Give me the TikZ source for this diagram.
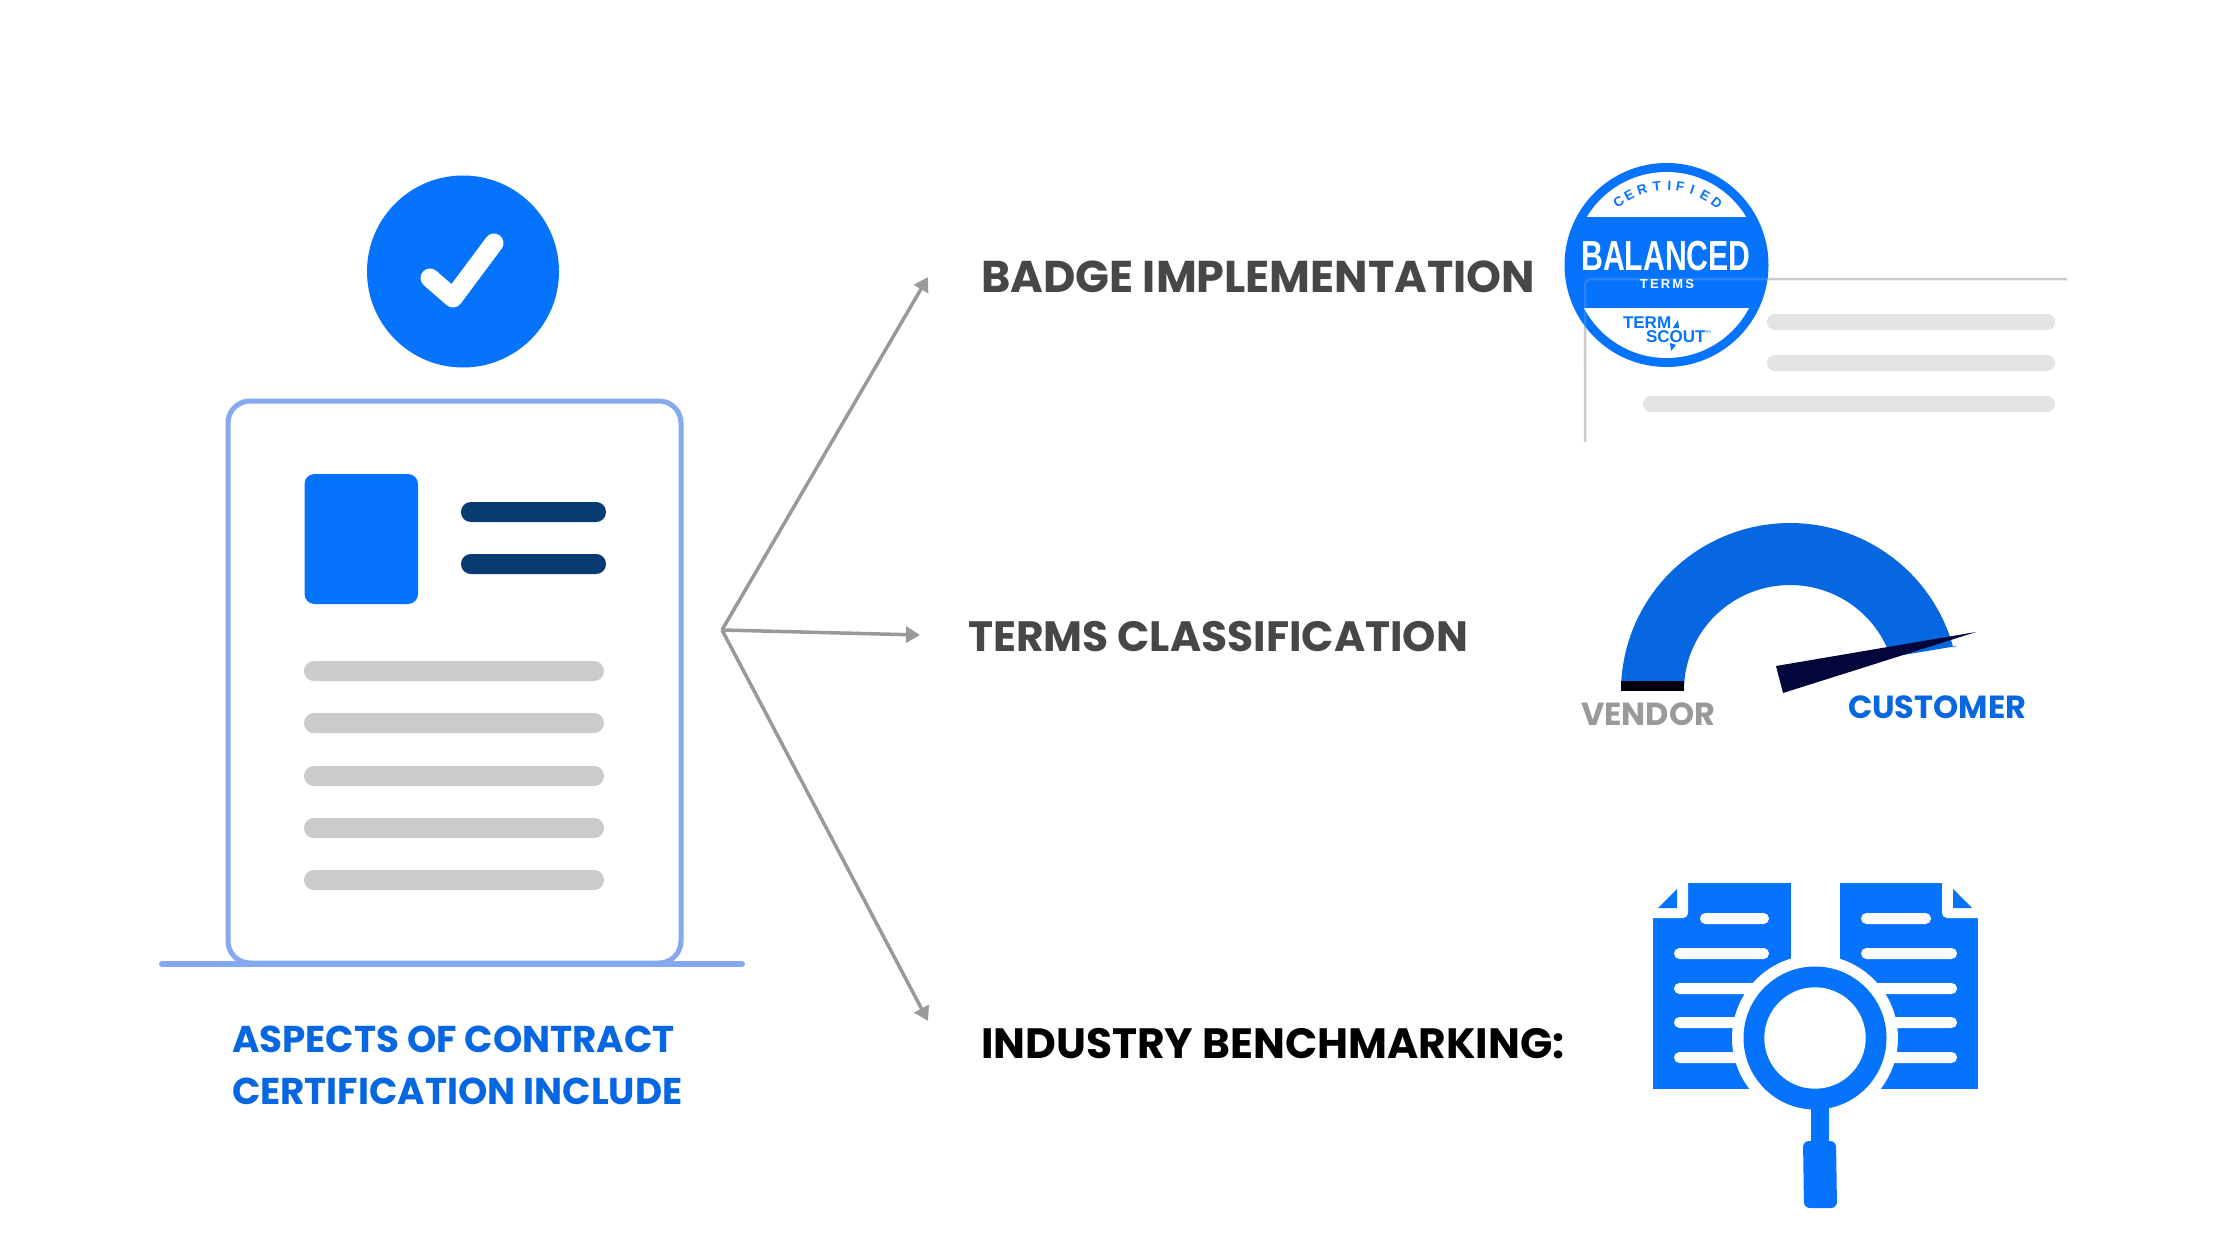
\documentclass[tikz,border=0pt]{standalone}
\usepackage{fontspec}
\usetikzlibrary{arrows.meta}
\newfontfamily\pop{Poppins}
\newfontfamily\lib{Liberation Sans}
\newcommand{\fsz}[1]{\fontsize{#1}{#1}\selectfont}
\definecolor{vivid}{HTML}{0573FC}
\definecolor{labelblue}{HTML}{0767E0}
\definecolor{cardline}{HTML}{85A9EE}
\definecolor{navybar}{HTML}{0A3A72}
\definecolor{greybar}{HTML}{CBCBCB}
\definecolor{palebar}{HTML}{E4E4E4}
\definecolor{paleline}{HTML}{CCCCCC}
\definecolor{arrowgrey}{HTML}{999999}
\definecolor{needle}{HTML}{03063A}
\tikzset{
  txt/.style={inner sep=0pt,outer sep=0pt,anchor=base west},
  mid/.style={inner sep=0pt,outer sep=0pt,anchor=base},
  caption/.style={txt,font=\pop\bfseries\fsz{37.3},text=labelblue},
  fork/.style={draw=arrowgrey,line width=3.5pt,-{Triangle[length=14pt,width=16pt]}},
}
\begin{document}
\begin{tikzpicture}[x=1pt,y=-1pt]
\useasboundingbox (0,0) rectangle (2240,1260);
\fill[white] (0,0) rectangle (2240,1260);
% check circle
\fill[vivid] (463,271.5) circle (96);
\draw[white,line width=19pt,line cap=round,line join=round] (430,278) -- (453,298) -- (494,243);
% card
\draw[cardline,line width=5pt,rounded corners=22pt,fill=white] (228,401) rectangle (681,963);
\draw[cardline,line width=6pt,line cap=round] (162,964) -- (742,964);
\fill[vivid,rounded corners=10pt] (304.5,474) rectangle (418,604);
\foreach \y in {502,554}
  \fill[navybar,rounded corners=9.9pt] (461,\y) rectangle (606,\y+20);
\foreach \y in {661,713,766,818,870}
  \fill[greybar,rounded corners=9.9pt] (304,\y) rectangle (604,\y+20);
\node[caption] (capa) at (232,1052) {ASPECTS OF CONTRACT};
\node[caption] (capb) at (232,1104) {CERTIFICATION INCLUDE};
% fork
\coordinate (hub) at (722,630);
\coordinate (tipa) at (928,277);
\coordinate (tipb) at (920,635);
\coordinate (tipc) at (928,1021);
\draw[fork] (hub) -- (tipa);
\draw[fork] (hub) -- (tipb);
\draw[fork] (hub) -- (tipc);
% headings
\node[txt,font=\pop\bfseries\fsz{44.5},text=black!72] (ha) at (981,292) {BADGE IMPLEMENTATION};
\node[txt,font=\pop\bfseries\fsz{42.4},text=black!72] (hb) at (968,651) {TERMS CLASSIFICATION};
\node[txt,font=\pop\bfseries\fsz{42.4},text=black] (hc) at (981,1058) {INDUSTRY BENCHMARKING:};
% badge document
\draw[paleline,line width=2.5pt,rounded corners=6pt] (1585,442) -- (1585,279) -- (2067,279);
\foreach \y in {314,355}
  \fill[palebar,rounded corners=7.9pt] (1767,\y) rectangle (2055,\y+16);
\fill[palebar,rounded corners=7.9pt] (1643,396) rectangle (2055,412);
% badge
\fill[vivid] (1666.5,265) circle (102);
\fill[white] (1666.5,265) circle (93);
\begin{scope}
  \clip (1666.5,265) circle (95);
  \fill[vivid] (1560,217) rectangle (1775,308);
\end{scope}
\draw[paleline,opacity=.2,line width=2.5pt,rounded corners=6pt] (1585,367) -- (1585,279) -- (1768,279);
\foreach \c/\a in {C/-37,E/-28,R/-18,T/-7,I/2,F/10,I/19,E/29,D/39}
  \node[inner sep=0pt,text=vivid,font=\lib\bfseries\fsz{13.5},rotate=-\a] (cert\a) at ({1666.5+79.5*sin(\a)},{265-79.5*cos(\a)}) {\c};
\node[mid,text=white,font=\lib\bfseries\fsz{42}] (bal) at (1666,270) {\scalebox{0.72}[1]{BALANCED}};
\node[mid,text=white,font=\lib\bfseries\fsz{13}] (trm) at (1667,288) {T\,E\,R\,M\,S};
\node[txt,text=vivid,font=\lib\bfseries\fsz{17}] (lta) at (1623,328) {TERM};
\node[txt,text=vivid,font=\lib\bfseries\fsz{17}] (ltb) at (1646,342) {SCOUT};
\node[txt,text=vivid,font=\lib\fsz{4}] (ltm) at (1705,333) {TM};
\fill[vivid] (1673,328) -- (1678,320) -- (1679,328) -- cycle;
\fill[vivid] (1670,343) -- (1676,345) -- (1671,351) -- cycle;
% gauge
\fill[labelblue] plot[domain=180:15,samples=70] ({1790+169*cos(\x)},{691-168*sin(\x)})
  -- (1957,646) -- (1903,655) -- (1890,647)
  -- plot[domain=20:180,samples=70] ({1790+106*cos(\x)},{690-105*sin(\x)}) -- cycle;
\fill[black!95!blue] (1621,681) rectangle (1684,691);
\fill[needle] (1776,666) -- (1976,632) -- (1783,693) -- cycle;
\node[txt,text=black!40,font=\pop\bfseries\fsz{32}] (vend) at (1581,725) {VENDOR};
\node[txt,text=labelblue,font=\pop\bfseries\fsz{32}] (cust) at (1848,718) {CUSTOMER};
% documents
\fill[vivid] (1653,883) rectangle (1791,1089);
\fill[vivid] (1840,883) rectangle (1978,1089);
\fill[white,rounded corners=5pt] (1640,870) rectangle (1688,918);
\fill[white,rounded corners=5pt] (1942,870) rectangle (1990,918);
\fill[vivid] (1677,889) -- (1677,908) -- (1658,908) -- cycle;
\fill[vivid] (1953,889) -- (1953,908) -- (1972,908) -- cycle;
\fill[white,rounded corners=5.4pt] (1700,913) rectangle (1769,924);
\fill[white,rounded corners=5.4pt] (1861,913) rectangle (1931,924);
\fill[white,rounded corners=5.4pt] (1674,948) rectangle (1769,959);
\fill[white,rounded corners=5.4pt] (1861,948) rectangle (1957,959);
\foreach \y in {983,1017,1052}{
  \fill[white,rounded corners=5.4pt] (1674,\y) rectangle (1790,\y+11);
  \fill[white,rounded corners=5.4pt] (1841,\y) rectangle (1957,\y+11);
}
% magnifier
\fill[white] (1815,1038) circle (83);
\fill[vivid] (1811,1100) rectangle (1829,1145);
\fill[vivid,rounded corners=6pt] (1803,1141) -- (1836,1141) -- (1837,1208) -- (1804,1208) -- cycle;
\fill[vivid] (1815,1038) circle (71.5);
\fill[white] (1815,1038) circle (50.7);
\end{tikzpicture}
\end{document}
